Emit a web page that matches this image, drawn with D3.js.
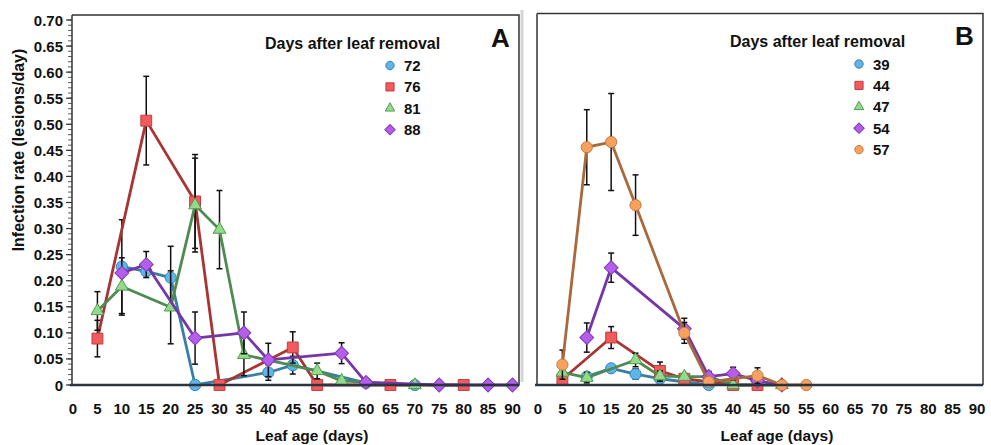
<!DOCTYPE html>
<html lang="en">
<head>
<meta charset="UTF-8">
<title>Infection rate by leaf age</title>
<script src="https://d3js.org/d3.v7.min.js"></script>
<style>
  body { margin: 0; background: #fff; }
  svg text { font-family: "Liberation Sans", Arial, sans-serif; font-weight: bold; fill: #111; }
</style>
</head>
<body>
<div id="chart"></div>
<script>
// axis tick labels
const ageTicks = [0, 5, 10, 15, 20, 25, 30, 35, 40, 45, 50, 55, 60, 65, 70, 75, 80, 85, 90];
const rateTicks = [0, 0.05, 0.10, 0.15, 0.20, 0.25, 0.30, 0.35, 0.40, 0.45, 0.50, 0.55, 0.60, 0.65, 0.70];

// panel A series: [leaf age, infection rate, error]
const daysA = ["72", "76", "81", "88"];
const a72 = [[10,0.227,0.09],[15,0.218,0],[20,0.206,0.06],[25,0,0],[40,0.024,0.015],[45,0.038,0.017],[60,0.004,0],[70,0,0]];
const a76 = [[5,0.089,0.035],[15,0.507,0.085],[25,0.352,0.09],[30,0,0],[45,0.072,0.03],[50,0,0],[65,0,0],[80,0,0]];
const a81 = [[5,0.142,0.037],[10,0.189,0.055],[20,0.149,0.07],[25,0.345,0.09],[30,0.298,0.075],[35,0.058,0.04],[50,0.027,0.015],[55,0.008,0],[70,0,0]];
const a88 = [[10,0.215,0],[15,0.231,0.025],[25,0.09,0.05],[35,0.1,0.04],[40,0.048,0.032],[55,0.061,0.02],[60,0.005,0],[75,0,0],[85,0,0],[90,0,0]];

// panel B series
const daysB = ["39", "44", "47", "54", "57"];
const b39 = [[10,0.016,0],[15,0.032,0.006],[20,0.021,0.01],[25,0.012,0],[35,0,0]];
const b44 = [[5,0.011,0.012],[15,0.091,0.021],[25,0.027,0.017],[30,0.012,0.01],[40,0,0],[45,0,0.008]];
const b47 = [[5,0.024,0],[10,0.014,0.01],[20,0.048,0.013],[25,0.017,0.01],[30,0.016,0],[35,0.016,0],[40,0,0],[50,0,0]];
const b54 = [[10,0.091,0.028],[15,0.225,0.028],[30,0.108,0.02],[35,0.016,0.01],[40,0.022,0.012],[45,0.008,0],[50,0,0]];
const b57 = [[5,0.039,0.028],[10,0.456,0.072],[15,0.466,0.093],[20,0.345,0.058],[30,0.1,0.02],[35,0.006,0],[45,0.018,0.015],[50,0,0],[55,0,0]];

const styles = {
  blue:   { fill: "#5db6ea", stroke: "#3d7fb0", line: "#3a7ea4", shape: "circle" },
  red:    { fill: "#f25b5b", stroke: "#c43c3c", line: "#a83434", shape: "square" },
  green:  { fill: "#93da8c", stroke: "#4f9c4f", line: "#4f8a52", shape: "triangle" },
  purple: { fill: "#b75ded", stroke: "#7d3cae", line: "#7636a8", shape: "diamond" },
  orange: { fill: "#f6a25e", stroke: "#c27a42", line: "#a8693c", shape: "circle" }
};

const W = 991, H = 445;
const svg = d3.select("#chart").append("svg")
  .attr("width", W).attr("height", H);

const y = d3.scaleLinear().domain([0, 0.70]).range([385, 20]);

function marker(sel, st, big) {
  const k = big ? 1 : 0.75;
  if (st.shape === "circle") {
    sel.append("circle").attr("r", 5.6 * k);
  } else if (st.shape === "square") {
    sel.append("path").attr("d", d3.symbol(d3.symbolSquare, 118 * k * k)());
  } else if (st.shape === "triangle") {
    sel.append("path").attr("d", d3.symbol(d3.symbolTriangle, 70 * k * k)());
  } else {
    sel.append("path").attr("d", d3.symbol(d3.symbolSquare, 96 * k * k)()).attr("transform", "rotate(45)");
  }
  sel.selectAll("circle,path").attr("fill", st.fill).attr("stroke", st.stroke).attr("stroke-width", 1);
}

function drawPanel(p) {
  const x = d3.scaleLinear().domain([0, 90]).range([p.x0, p.x1]);
  const g = svg.append("g");

  // frame
  g.append("path")
    .attr("d", `M${p.left},${p.top}H${p.right}V385`)
    .attr("fill", "none").attr("stroke", "#333").attr("stroke-width", 1.5);
  g.append("line")
    .attr("x1", p.left).attr("x2", p.left).attr("y1", p.top).attr("y2", 385)
    .attr("stroke", "#333").attr("stroke-width", 1.5);

  if (p.yLabels) {
    const minor = d3.range(0, 71).map(i => i / 100);
    g.selectAll(".minor").data(minor).join("line")
      .attr("x1", p.left - 4).attr("x2", p.left)
      .attr("y1", d => y(d)).attr("y2", d => y(d))
      .attr("stroke", "#333").attr("stroke-width", 0.8);
    g.selectAll(".major").data(rateTicks).join("line")
      .attr("x1", p.left - 6).attr("x2", p.left)
      .attr("y1", d => y(d)).attr("y2", d => y(d))
      .attr("stroke", "#333").attr("stroke-width", 1.2);
    g.selectAll(".ylab").data(rateTicks).join("text")
      .attr("x", p.left - 9).attr("y", d => y(d) + 5.5)
      .attr("text-anchor", "end").attr("font-size", 15)
      .text(d => d === 0 ? "0" : d.toFixed(2));
  }

  g.selectAll(".xlab").data(ageTicks).join("text")
    .attr("x", d => x(d)).attr("y", 413.5)
    .attr("text-anchor", "middle").attr("font-size", 15)
    .text(d => d);

  g.append("text").attr("x", p.titleX).attr("y", 441)
    .attr("text-anchor", "middle").attr("font-size", 15.5)
    .text("Leaf age (days)");

  // series
  p.series.forEach((s, i) => {
    const st = styles[p.colors[i]];
    const sg = g.append("g");
    const bars = s.filter(d => d[2] > 0);
    const eb = sg.selectAll(".eb").data(bars).join("g");
    eb.append("line")
      .attr("x1", d => x(d[0])).attr("x2", d => x(d[0]))
      .attr("y1", d => y(d[1] + d[2])).attr("y2", d => y(Math.max(0, d[1] - d[2])))
      .attr("stroke", "#111").attr("stroke-width", 1.5);
    eb.append("line")
      .attr("x1", d => x(d[0]) - 3).attr("x2", d => x(d[0]) + 3)
      .attr("y1", d => y(d[1] + d[2])).attr("y2", d => y(d[1] + d[2]))
      .attr("stroke", "#111").attr("stroke-width", 1.5);
    eb.filter(d => d[1] - d[2] > 0).append("line")
      .attr("x1", d => x(d[0]) - 3).attr("x2", d => x(d[0]) + 3)
      .attr("y1", d => y(d[1] - d[2])).attr("y2", d => y(d[1] - d[2]))
      .attr("stroke", "#111").attr("stroke-width", 1.5);

    sg.append("path").datum(s)
      .attr("d", d3.line().x(d => x(d[0])).y(d => y(d[1])))
      .attr("fill", "none").attr("stroke", st.line).attr("stroke-width", 2.8)
      .attr("stroke-linejoin", "round");

    sg.selectAll(".m").data(s).join("g")
      .attr("transform", d => `translate(${x(d[0])},${y(d[1])})`)
      .each(function () { marker(d3.select(this), st, true); });
  });

  // x axis line on top
  g.append("line")
    .attr("x1", p.left - 2).attr("x2", p.right).attr("y1", 385).attr("y2", 385)
    .attr("stroke", "#2b3440").attr("stroke-width", 2.6);

  // legend
  g.append("text").attr("x", p.legX).attr("y", p.legY)
    .attr("font-size", 16).text("Days after leaf removal");
  p.names.forEach((n, i) => {
    const ly = p.legY + 17 + i * 21.4;
    const lg = g.append("g").attr("transform", `translate(${p.legMx},${ly})`);
    marker(lg, styles[p.colors[i]], false);
    g.append("text").attr("x", p.legMx + 14).attr("y", ly + 5.5)
      .attr("font-size", 15).text(n);
  });

  g.append("text").attr("x", p.letterX).attr("y", p.letterY)
    .attr("font-size", 26).text(p.letter);
}

// thin grey seam between the panels
svg.append("line").attr("x1", 522).attr("x2", 522).attr("y1", 10).attr("y2", 382)
  .attr("stroke", "#d4d4d4").attr("stroke-width", 3);

drawPanel({
  x0: 73, x1: 512.5, left: 72, right: 519, top: 15,
  yLabels: true, titleX: 312,
  series: [a72, a76, a81, a88], names: daysA,
  colors: ["blue", "red", "green", "purple"],
  legX: 265, legY: 48.5, legMx: 390,
  letter: "A", letterX: 491, letterY: 47
});

drawPanel({
  x0: 538, x1: 977, left: 537, right: 983, top: 13.5,
  yLabels: false, titleX: 777,
  series: [b39, b44, b47, b54, b57], names: daysB,
  colors: ["blue", "red", "green", "purple", "orange"],
  legX: 730, legY: 47, legMx: 859,
  letter: "B", letterX: 955, letterY: 45
});

// y axis title
svg.append("text")
  .attr("transform", "translate(24,150) rotate(-90)")
  .attr("text-anchor", "middle").attr("font-size", 16)
  .text("Infection rate (lesions/day)");
</script>
</body>
</html>
